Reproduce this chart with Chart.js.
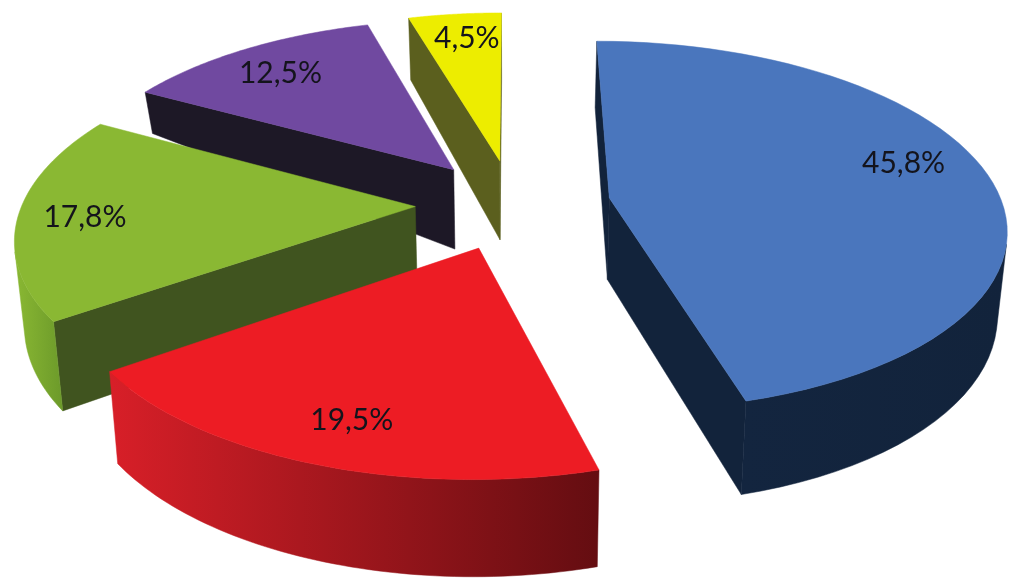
<!DOCTYPE html>
<html>
<head>
<meta charset="utf-8">
<style>
  html, body { margin: 0; background: #fff; }
  #wrap { width: 1024px; height: 579px; }
</style>
<script src="https://cdn.jsdelivr.net/npm/chart.js@4"></script>
</head>
<body>
<div id="wrap"><canvas id="pie" width="1024" height="579"></canvas></div>
<script>
const labels = ['45,8%', '19,5%', '17,8%', '12,5%', '4,5%'];
const values = [45.8, 19.5, 17.8, 12.5, 4.5];

const topColors = ['#4a76bd', '#ed1c24', '#8ab833', '#7049a0', '#eded00'];
const wallColors = ['#12233b', '#5a0b0e', '#40541f', '#1d1826', '#5b5f1e'];
// rim gradient runs left to right across each slice
const rimColors = [['#13253f', '#12233b'], ['#d81f28', '#640d11'], ['#8ab833', '#6c9a2a'], ['#1d1826', '#1d1826'], ['#5b5f1e', '#5b5f1e']];
const labelDist = [0.74, 0.72, 0.82, 0.72, 0.8];
const labelNudge = [[13, -17], [-12, 24], [-5, 3], [-19, -7], [4, -2]];

// projection of the pie plane on the page (units: one radius)
const view = { cx: 513, cy: 204, rx: 393, ry: 182, persp: 0.15, base: 0.98 };

function project(x, y) {
  const w = 1 - view.persp * y;
  return [view.cx + view.rx * x / w, view.cy + view.ry * y / w];
}

// same point on the bottom face of the slice
function lower(x, y) {
  const p = project(x, y);
  let depth = 82 * (1 + 0.15 * y);
  if (y < 0) depth -= 45 * x * x * -y;
  return [view.cx + (p[0] - view.cx) * view.base, p[1] + depth];
}

function fillPoly(ctx, pts, fill) {
  ctx.beginPath();
  pts.forEach((p, i) => i ? ctx.lineTo(p[0], p[1]) : ctx.moveTo(p[0], p[1]));
  ctx.closePath();
  ctx.fillStyle = fill;
  ctx.strokeStyle = fill;
  ctx.lineWidth = 0.5;
  ctx.fill();
  ctx.stroke();
}

function area(pts) {
  let s = 0;
  pts.forEach((p, i) => {
    const q = pts[(i + 1) % pts.length];
    s += p[0] * q[1] - q[0] * p[1];
  });
  return s / 2;
}

function drawSlice(ctx, arc, i) {
  const mid = (arc.startAngle + arc.endAngle) / 2;
  const d = arc.options.offset / arc.outerRadius;
  const ox = d * Math.cos(mid), oy = d * Math.sin(mid);

  const rim = [];
  const steps = 60;
  for (let s = 0; s <= steps; s++) {
    const a = arc.startAngle + (arc.endAngle - arc.startAngle) * s / steps;
    rim.push([ox + Math.cos(a), oy + Math.sin(a)]);
  }
  const first = rim[0], last = rim[steps];

  // cut faces, only when they look at the camera
  [[[ox, oy], first], [last, [ox, oy]]].forEach(e => {
    const quad = [project(...e[0]), project(...e[1]), lower(...e[1]), lower(...e[0])];
    if (area(quad) < 0) fillPoly(ctx, quad, wallColors[i]);
  });

  // outer face
  let upper = [], under = [];
  for (let s = 0; s < steps; s++) {
    const quad = [project(...rim[s]), project(...rim[s + 1]), lower(...rim[s + 1]), lower(...rim[s])];
    if (area(quad) < 0) {
      if (!upper.length) { upper.push(quad[0]); under.push(quad[3]); }
      upper.push(quad[1]);
      under.push(quad[2]);
    }
  }
  if (upper.length) {
    const outline = upper.concat(under.reverse());
    const xs = outline.map(p => p[0]);
    const grad = ctx.createLinearGradient(Math.min(...xs), 0, Math.max(...xs), 0);
    grad.addColorStop(0, rimColors[i][0]);
    grad.addColorStop(1, rimColors[i][1]);
    fillPoly(ctx, outline, grad);
  }

  // top face
  fillPoly(ctx, [project(ox, oy)].concat(rim.map(p => project(...p))), topColors[i]);
}

const pie3d = {
  id: 'pie3d',
  beforeDatasetsDraw(chart) {
    const ctx = chart.ctx;
    const arcs = chart.getDatasetMeta(0).data;
    ctx.save();
    for (let i = arcs.length - 1; i >= 0; i--) drawSlice(ctx, arcs[i], i);
    ctx.font = '30px Lato, "Open Sans", sans-serif';
    ctx.fillStyle = '#14141c';
    ctx.textAlign = 'center';
    ctx.textBaseline = 'middle';
    arcs.forEach((arc, i) => {
      const mid = (arc.startAngle + arc.endAngle) / 2;
      const d = arc.options.offset / arc.outerRadius + labelDist[i];
      const p = project(d * Math.cos(mid), d * Math.sin(mid));
      ctx.fillText(labels[i], p[0] + labelNudge[i][0], p[1] + labelNudge[i][1]);
    });
    ctx.restore();
    return false;
  }
};

new Chart(document.getElementById('pie'), {
  type: 'pie',
  data: { labels: labels, datasets: [{ data: values, backgroundColor: topColors, offset: 64, borderWidth: 0 }] },
  options: {
    responsive: false,
    animation: false,
    rotation: 0,
    layout: { padding: 0 },
    plugins: { legend: { display: false }, tooltip: { enabled: false } }
  },
  plugins: [pie3d]
});
</script>
</body>
</html>
